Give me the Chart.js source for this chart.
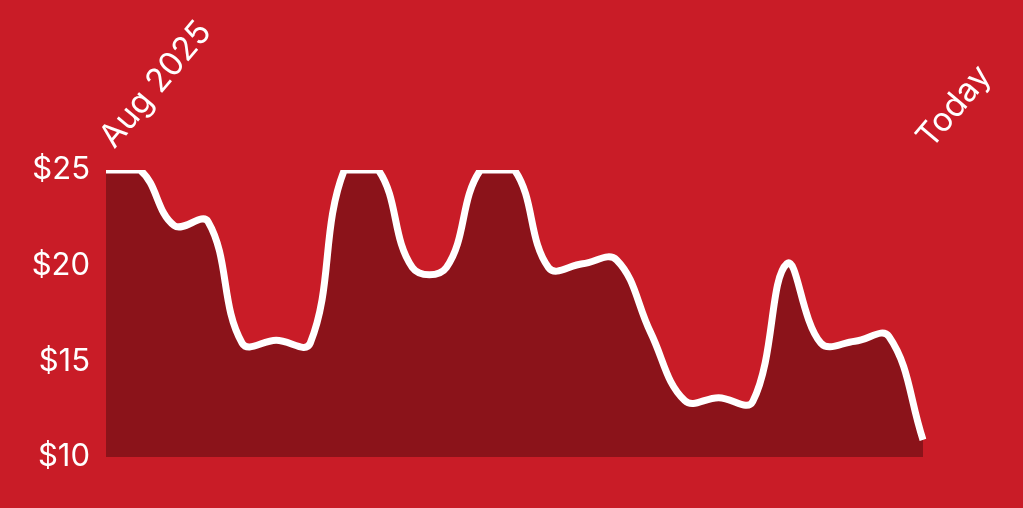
<!DOCTYPE html>
<html>
<head>
<meta charset="utf-8">
<script src="https://cdn.jsdelivr.net/npm/chart.js@4"></script>
<style>
  html, body { margin: 0; padding: 0; background: #c91c27; }
  #wrap { width: 1023px; height: 508px; }
</style>
</head>
<body>
<div id="wrap"><canvas id="chart"></canvas></div>
<script>
"use strict";

const labels = [
  'Aug 2025', '', '', '', '', '', '', '', '', '', '', '', '',
  '', '', '', '', '', '', '', '', '', '', '', 'Today'
];
const prices = [
  25, 25, 22.1, 22.3, 15.95, 16.1, 15.95, 25, 25, 19.9, 19.9, 25, 25,
  19.9, 20.1, 20.3, 16.5, 12.95, 13.1, 12.9, 20.1, 15.95, 16.05, 16.3, 10.9
];
const yTicks = [10, 15, 20, 25];

const white = '#ffffff';

const chart = new Chart('chart', {
  type: 'line',
  data: {
    labels: labels,
    datasets: [{
      data: prices,
      borderColor: white,
      borderWidth: 7,
      backgroundColor: '#8b131a',
      fill: 'start',
      pointRadius: 0,
      tension: 0.4
    }]
  },
  options: {
    responsive: true,
    maintainAspectRatio: false,
    animation: false,
    layout: { padding: { left: 0, right: 100, top: 0, bottom: 51 } },
    plugins: { legend: { display: false }, tooltip: { enabled: false } },
    scales: {
      x: {
        position: 'top',
        grid: { display: false, drawTicks: false },
        border: { display: false },
        ticks: {
          color: white,
          font: { family: 'Inter', size: 33 },
          autoSkip: false,
          minRotation: 50,
          maxRotation: 50,
          padding: 14,
          labelOffset: 31
        },
        afterFit: function(s) { s.height = 170; }
      },
      y: {
        min: 10,
        max: 25,
        grid: { display: false, drawTicks: false },
        border: { display: false },
        afterBuildTicks: function(s) { s.ticks = yTicks.map(v => ({ value: v })); },
        ticks: {
          color: white,
          font: { family: 'Inter', size: 31 },
          padding: 16,
          callback: v => '$' + v
        },
        afterFit: function(s) { s.width = 106; }
      }
    }
  }
});
</script>
</body>
</html>
